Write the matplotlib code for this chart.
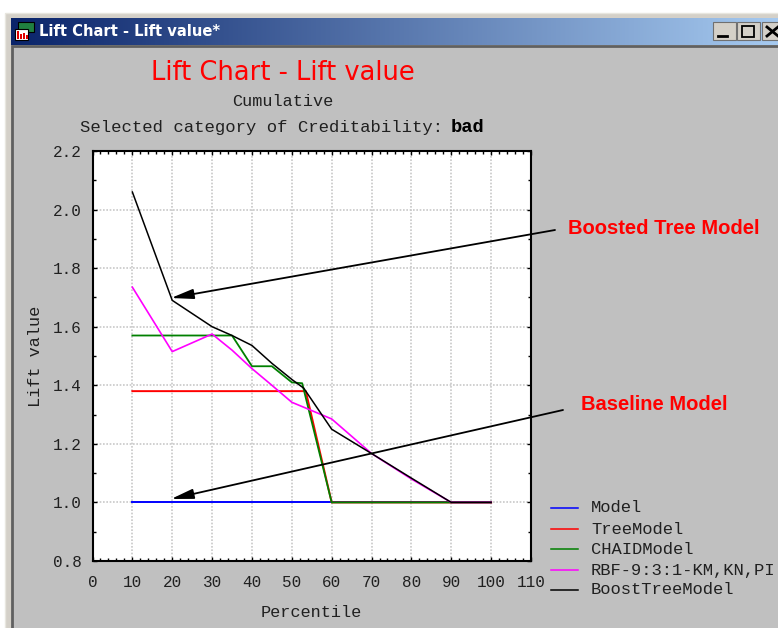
import matplotlib
matplotlib.use("Agg")
import matplotlib.pyplot as plt
import numpy as np
from matplotlib.patches import Rectangle

W, H = 778, 628

percentile = [10, 20, 30, 35, 40, 45, 50, 53, 60, 70, 80, 90, 100]
model = [1.0, 1.0, 1.0, 1.0, 1.0, 1.0, 1.0, 1.0, 1.0, 1.0, 1.0, 1.0, 1.0]
tree_x = [10, 20, 30, 40, 50, 53.5, 60, 70, 80, 90, 100]
tree = [1.38, 1.38, 1.38, 1.38, 1.38, 1.38, 1.0, 1.0, 1.0, 1.0, 1.0]
chaid_x = [10, 20, 30, 35, 40, 45, 50, 52.6, 60, 70, 80, 90, 100]
chaid = [1.57, 1.57, 1.57, 1.57, 1.465, 1.465, 1.41, 1.407, 1.0, 1.0, 1.0, 1.0, 1.0]
rbf = [1.735, 1.515, 1.575, 1.52, 1.457, 1.40, 1.342, 1.325, 1.285, 1.167, 1.08, 1.0, 1.0]
boost = [2.06, 1.69, 1.60, 1.57, 1.536, 1.475, 1.42, 1.39, 1.25, 1.167, 1.083, 1.0, 1.0]

series_names = ["Model", "TreeModel", "CHAIDModel", "RBF-9:3:1-KM,KN,PI", "BoostTreeModel"]
series_colors = ["#0000ff", "#ff0000", "#008000", "#ff00ff", "#000000"]

xticks = list(range(0, 111, 10))
yticks = [0.8, 1.0, 1.2, 1.4, 1.6, 1.8, 2.0, 2.2]

mono = "Liberation Mono"
GRAY = "#c0c0c0"
INK = "#202020"

fig = plt.figure(figsize=(W / 100, H / 100), dpi=100, facecolor="white")

# window chrome, in pixel coords
bg = fig.add_axes([0, 0, 1, 1], zorder=0)
bg.set_xlim(0, W)
bg.set_ylim(H, 0)
bg.axis("off")
bg.add_patch(Rectangle((5, 13), W, H, fc="#d4d0c8", ec="#e8e6df", lw=1))
bg.add_patch(Rectangle((12, 46), W, H, fc=GRAY, ec="#606060", lw=2))
grad = np.linspace(0, 1, 256).reshape(1, -1, 1)
c0 = np.array([10, 36, 106]).reshape(1, 1, 3) / 255
c1 = np.array([166, 202, 240]).reshape(1, 1, 3) / 255
bg.imshow(c0 + (c1 - c0) * grad, extent=(11, W, 45, 18), aspect="auto", zorder=1)
bg.set_xlim(0, W)
bg.set_ylim(H, 0)
bg.text(39, 31.5, "Lift Chart - Lift value*", color="white", fontsize=10.6, fontweight="bold",
        family="DejaVu Sans", va="center", ha="left", zorder=3)

# icon
bg.add_patch(Rectangle((18, 22), 16, 10, fc="#208040", ec="black", lw=0.8, zorder=2))
bg.add_patch(Rectangle((15, 29), 13, 11, fc="white", ec="black", lw=0.8, zorder=3))
for ix, ih in zip([17, 20, 23, 26], [8, 5, 6, 4]):
    bg.add_patch(Rectangle((ix, 39 - ih), 2, ih, fc="#e00000", zorder=4))

# title bar buttons
for bx in [713, 737, 762]:
    bg.add_patch(Rectangle((bx, 22), 23, 18, fc="#d4d0c8", ec="#707070", lw=0.8, zorder=3))
bg.plot([718, 727], [36, 36], color="black", lw=2, zorder=4)
bg.add_patch(Rectangle((742, 26), 12, 11, fc="none", ec="black", lw=1.3, zorder=4))
bg.plot([767, 778], [27, 36], color="black", lw=2, zorder=4)
bg.plot([767, 778], [36, 27], color="black", lw=2, zorder=4)

# chart titles
bg.text(283, 72.5, "Lift Chart - Lift value", color="#ff0000", fontsize=18.5, family="DejaVu Sans",
        ha="center", va="center")
bg.text(283, 101.5, "Cumulative", color=INK, fontsize=12.2, family=mono, ha="center", va="center")
bg.text(80, 127.5, "Selected category of Creditability:", color=INK, fontsize=12.45, family=mono,
        ha="left", va="center")
bg.text(451, 127, "bad", color="black", fontsize=13.5, family=mono, fontweight="bold",
        ha="left", va="center")

# plot area
ax = fig.add_axes([92.5 / W, 1 - 561 / H, (531 - 92.5) / W, (561 - 151) / H], zorder=2)
ax.set_facecolor("white")
ax.set_xlim(0, 110)
ax.set_ylim(0.8, 2.2)
ax.set_xticks(xticks)
ax.set_yticks(yticks)
ax.set_xticks(np.arange(0, 111, 2), minor=True)
ax.set_yticks(np.arange(0.8, 2.21, 0.1), minor=True)
ax.set_yticklabels([f"{v:.1f}" for v in yticks])
ax.grid(True, which="major", color="#c8c8c8", linestyle=(0, (1, 1)), linewidth=1.2)
ax.set_axisbelow(True)
ax.tick_params(which="major", direction="in", top=True, right=True, length=3, width=1,
               labelsize=11.5, labelcolor=INK)
ax.tick_params(which="minor", direction="in", top=True, right=True, length=2, width=1)
ax.tick_params(axis="x", which="major", pad=10)
ax.tick_params(axis="y", which="major", pad=8)
for lab in ax.get_xticklabels() + ax.get_yticklabels():
    lab.set_family(mono)
for sp in ax.spines.values():
    sp.set_linewidth(1.5)

ax.plot(percentile, model, color=series_colors[0], lw=1.4, label=series_names[0])
ax.plot(tree_x, tree, color=series_colors[1], lw=1.4, label=series_names[1])
ax.plot(chaid_x, chaid, color=series_colors[2], lw=1.3, label=series_names[2])
ax.plot(percentile, rbf, color=series_colors[3], lw=1.2, label=series_names[3])
ax.plot(percentile, boost, color=series_colors[4], lw=1.1, label=series_names[4])

ax.set_xlabel("Percentile", family=mono, fontsize=12.2, labelpad=11, color=INK)
ax.set_ylabel("Lift value", family=mono, fontsize=12.2, labelpad=7, color=INK)

# legend and callouts go on a top layer so they can cross the plot frame
top = fig.add_axes([0, 0, 1, 1], zorder=3)
top.set_xlim(0, W)
top.set_ylim(H, 0)
top.axis("off")
top.patch.set_alpha(0)

legend_y = [508, 529, 549, 570, 590]
for name, col, ly in zip(series_names, series_colors, legend_y):
    top.plot([551, 578], [ly, ly], color=col, lw=1.1)
    top.text(591, ly, name, family=mono, fontsize=12.35, color=INK, va="center", ha="left")

head = "-|>,head_width=0.2,head_length=0.9"
top.annotate("", xy=(171, 298), xytext=(555, 230),
             arrowprops=dict(arrowstyle=head, color="black", lw=1.3, mutation_scale=15, shrinkA=0, shrinkB=0))
top.annotate("", xy=(171, 499), xytext=(563, 410),
             arrowprops=dict(arrowstyle=head, color="black", lw=1.3, mutation_scale=15, shrinkA=0, shrinkB=0))
top.text(568, 228.5, "Boosted Tree Model", color="#ff0000", fontsize=14.5, fontweight="bold",
         family="Liberation Sans", va="center", ha="left")
top.text(581, 404, "Baseline Model", color="#ff0000", fontsize=14.5, fontweight="bold",
         family="Liberation Sans", va="center", ha="left")

fig.savefig("out.png", dpi=100)
